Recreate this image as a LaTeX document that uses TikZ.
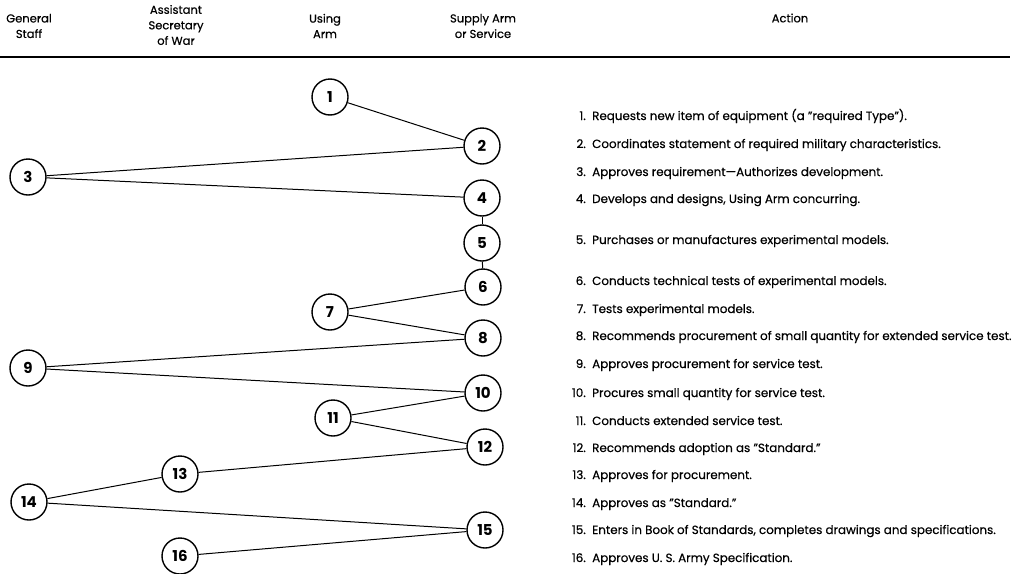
\documentclass[tikz,border=0pt]{standalone}
\usepackage{fontspec}
\setmainfont{Poppins}
\newfontfamily\listfont[FakeBold=0.5,Ligatures=TeX]{Poppins}
\begin{document}
\begin{tikzpicture}[x=1pt,y=-1pt,
  circ/.style={circle, draw, line width=1.4pt, minimum size=36pt, inner sep=0pt, font=\fontsize{15}{15}\selectfont\bfseries},
  link/.style={line width=1pt},
  hdr/.style={align=center, font=\listfont\fontsize{11.5}{15.5}\selectfont},
  num/.style={anchor=base east, inner sep=0pt, font=\listfont\fontsize{11.9}{13}\selectfont},
  txt/.style={anchor=base west, inner sep=0pt, font=\listfont\fontsize{11.9}{13}\selectfont}]
\useasboundingbox (0,0) rectangle (1016,573);
% headers
\node[hdr] (hGS) at (29,26) {General\\Staff};
\node[hdr] (hASW) at (176,25) {Assistant\\Secretary\\of War};
\node[hdr] (hUA) at (325,26) {Using\\Arm};
\node[hdr] (hSA) at (483,26) {Supply Arm\\or Service};
\node[hdr] (hAc) at (790,18) {Action};
\coordinate (r1) at (0,57);
\coordinate (r2) at (1010,57);
\draw[line width=1.6pt] (r1) -- (r2);
% circles
\node[circ] (c1) at (330,97) {1};
\node[circ] (c2) at (482,146) {2};
\node[circ] (c3) at (28,177) {3};
\node[circ] (c4) at (482,198) {4};
\node[circ] (c5) at (482,243) {5};
\node[circ] (c6) at (483,287) {6};
\node[circ] (c7) at (330,312) {7};
\node[circ] (c8) at (483,338) {8};
\node[circ] (c9) at (28,368) {9};
\node[circ] (c10) at (483,393) {10};
\node[circ] (c11) at (333,418) {11};
\node[circ] (c12) at (485,447) {12};
\node[circ] (c13) at (180,474) {13};
\node[circ] (c14) at (29,502) {14};
\node[circ] (c15) at (485,530) {15};
\node[circ] (c16) at (180,556) {16};
% links
\draw[link] (c1) -- (c2);
\draw[link] (c3) -- (c2);
\draw[link] (c3) -- (c4);
\draw[link] (c4) -- (c5);
\draw[link] (c5) -- (c6);
\draw[link] (c7) -- (c6);
\draw[link] (c7) -- (c8);
\draw[link] (c9) -- (c8);
\draw[link] (c9) -- (c10);
\draw[link] (c11) -- (c10);
\draw[link] (c11) -- (c12);
\draw[link] (c13) -- (c12);
\draw[link] (c14) -- (c13);
\draw[link] (c14) -- (c15);
\draw[link] (c16) -- (c15);
% action list
\foreach \i/\y/\t in {
 1/120/{Requests new item of equipment (a "required Type").},
 2/148/{Coordinates statement of required military characteristics.},
 3/176/{Approves requirement—Authorizes development.},
 4/203/{Develops and designs, Using Arm concurring.},
 5/244/{Purchases or manufactures experimental models.},
 6/285/{Conducts technical tests of experimental models.},
 7/313/{Tests experimental models.},
 8/340/{Recommends procurement of small quantity for extended service test.},
 9/368/{Approves procurement for service test.},
 10/397/{Procures small quantity for service test.},
 11/425/{Conducts extended service test.},
 12/452/{Recommends adoption as "Standard."},
 13/479/{Approves for procurement.},
 14/507/{Approves as "Standard."},
 15/534/{Enters in Book of Standards, completes drawings and specifications.},
 16/562/{Approves U. S. Army Specification.}}
{
 \node[num] (n\i) at (586,\y) {\i.};
 \node[txt] (t\i) at (592,\y) {\t};
}
\end{tikzpicture}
\end{document}
